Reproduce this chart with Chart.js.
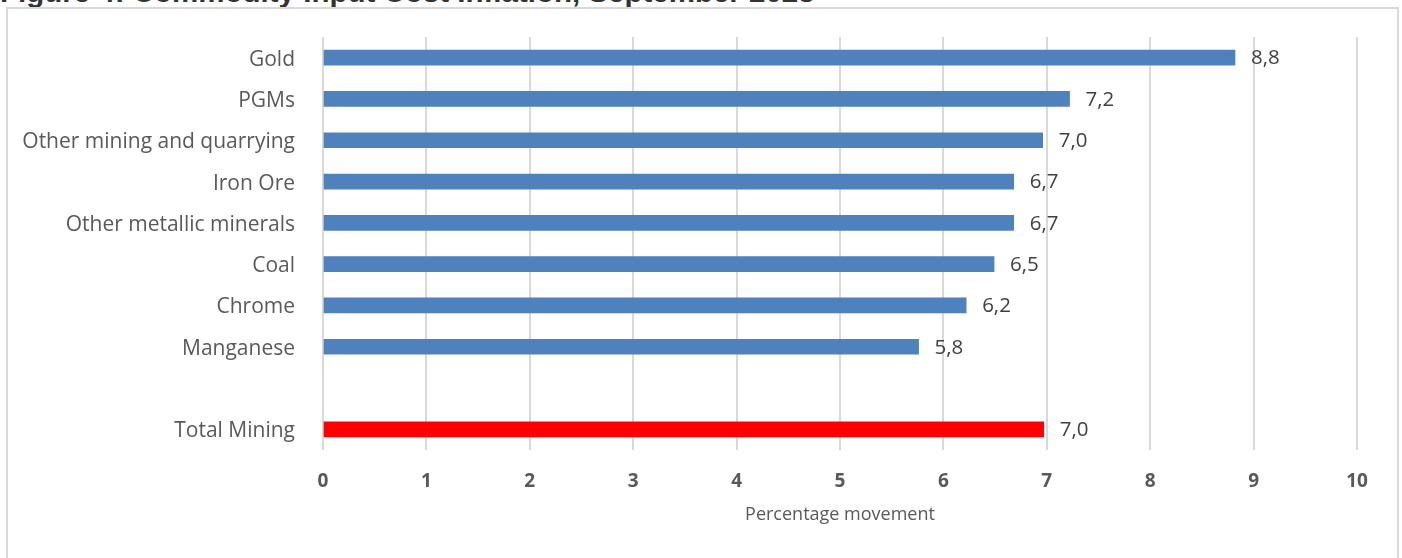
<!DOCTYPE html>
<html>
<head>
<meta charset="utf-8">
<script src="https://cdn.jsdelivr.net/npm/chart.js@4.4.0/dist/chart.umd.min.js"></script>
<style>
  body { margin: 0; background: #fff; overflow: hidden; }
  #wrap { position: relative; width: 1402px; height: 558px; }
  #title { position: absolute; left: 0; top: -25px; font: bold 29.5px "Liberation Sans", Arial, sans-serif; color: #333; white-space: nowrap; }
  #frame { position: absolute; left: 6px; top: 7px; width: 1389px; height: 560px; border: 2px solid #d9d9d9; }
  #myChart { position: absolute; left: 0; top: 0; }
</style>
</head>
<body>
<div id="wrap">
  <div id="title">Figure 4: Commodity Input Cost Inflation, September 2023</div>
  <div id="frame"></div>
  <canvas id="myChart" width="1402" height="558"></canvas>
</div>
<script>
const categories = ["Gold", "PGMs", "Other mining and quarrying", "Iron Ore", "Other metallic minerals", "Coal", "Chrome", "Manganese", "", "Total Mining"]
const movement = [8.82, 7.22, 6.96, 6.68, 6.68, 6.49, 6.22, 5.76, null, 6.97]
const barColours = ["#4f81bd", "#4f81bd", "#4f81bd", "#4f81bd", "#4f81bd", "#4f81bd", "#4f81bd", "#4f81bd", "#4f81bd", "#ff0000"]
const xTicks = [0, 1, 2, 3, 4, 5, 6, 7, 8, 9, 10]

const labelFont = '"Open Sans", "Lato", sans-serif'

// value labels at the end of each bar, decimal comma
const barLabels = {
    id: "barLabels",
    afterDatasetsDraw(chart) {
        const c = chart.ctx
        const meta = chart.getDatasetMeta(0)
        c.save()
        c.font = "20.5px " + labelFont
        c.fillStyle = "#404040"
        c.textBaseline = "middle"
        c.textAlign = "left"
        meta.data.forEach((bar, i) => {
            if (movement[i] == null) return
            c.fillText(movement[i].toFixed(1).replace(".", ","), bar.x + 16, bar.y + 1)
        })
        c.restore()
    }
}

const ctx = document.getElementById("myChart").getContext("2d")
const myChart = new Chart(ctx, {
    type: "bar",
    data: {
        labels: categories,
        datasets: [{
            data: movement,
            backgroundColor: barColours,
            barThickness: 15,
            borderWidth: 0
        }]
    },
    options: {
        indexAxis: "y",
        responsive: false,
        animation: false,
        layout: { padding: { top: 37, right: 45, bottom: 28, left: 0 } },
        plugins: {
            legend: { display: false },
            tooltip: { enabled: false }
        },
        scales: {
            x: {
                min: 0,
                max: 10,
                afterBuildTicks: (scale) => { scale.ticks = xTicks.map(v => ({ value: v })) },
                afterFit: (scale) => { scale.height = 80 },
                grid: { color: "#d9d9d9", lineWidth: 2, drawTicks: false },
                border: { display: false },
                ticks: {
                    padding: 20,
                    color: "#595959",
                    font: { family: labelFont, size: 19, weight: "bold" }
                },
                title: {
                    display: true,
                    text: "Percentage movement",
                    color: "#595959",
                    font: { family: labelFont, size: 18 }
                }
            },
            y: {
                afterFit: (scale) => { scale.width = 323 },
                grid: { display: false },
                border: { display: false },
                ticks: {
                    padding: 20,
                    labelOffset: 2,
                    color: "#595959",
                    font: { family: labelFont, size: 21 }
                }
            }
        }
    },
    plugins: [barLabels]
})
</script>
</body>
</html>
